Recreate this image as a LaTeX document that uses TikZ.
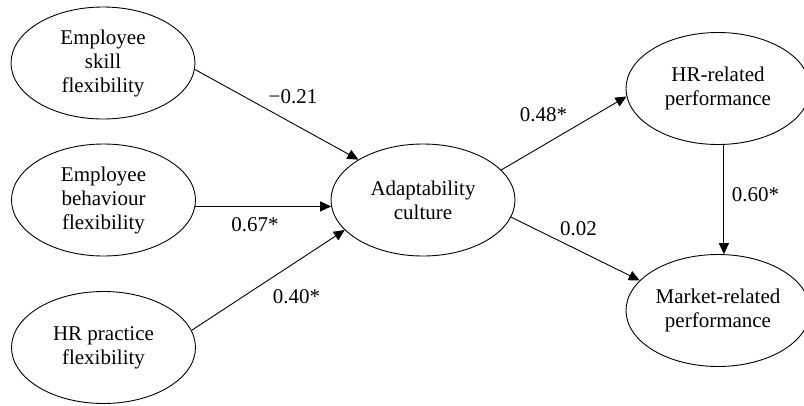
\documentclass[tikz,border=0pt]{standalone}
\usepackage{fontspec}
\setmainfont{Liberation Serif}
\usetikzlibrary{shapes.geometric,arrows.meta}
\begin{document}
\begin{tikzpicture}[x=1pt, y=-1pt, line width=0.9pt, >={Triangle[length=11pt,width=10pt]},
  every node/.style={font=\fontsize{21}{24}\selectfont},
  construct/.style={draw, ellipse, align=center, inner sep=0pt, minimum width=184pt, minimum height=112pt}]
\useasboundingbox (0,0) rectangle (804,405);
\node[construct] (esf) at (103,63) {Employee\\skill\\flexibility};
\node[construct] (ebf) at (103.5,200) {Employee\\behaviour\\flexibility};
\node[construct] (hrpf) at (103.5,347.5) {HR practice\\flexibility};
\node[construct] (ac) at (423,200) {Adaptability\\culture};
\node[construct] (hrp) at (718,88.5) {HR-related\\performance};
\node[construct] (mrp) at (718,310.5) {Market-related\\performance};
\draw[->] (esf.-4) -- (ac.148);
\draw[->] (ebf.-4) -- (ac.184);
\draw[->] (hrpf.11) -- (ac.201);
\draw[->] (ac.21) -- (hrp.185);
\draw[->] (ac.-11) -- (mrp.159);
\draw[->] (hrp.-84) -- (mrp.84);
\node (l1) at (293,97) {−0.21};
\node (l2) at (255,225) {0.67*};
\node (l3) at (296.5,297) {0.40*};
\node (l4) at (543.5,115) {0.48*};
\node (l5) at (578.5,229) {0.02};
\node (l6) at (755.5,195) {0.60*};
\end{tikzpicture}
\end{document}
